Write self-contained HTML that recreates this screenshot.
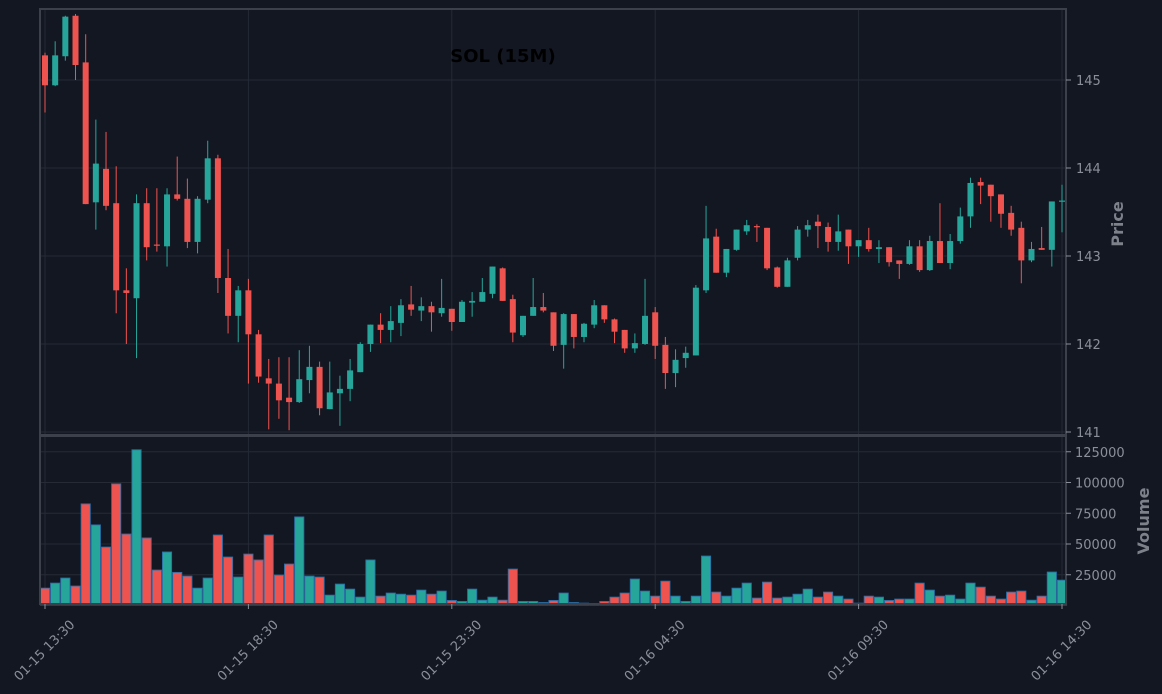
<!DOCTYPE html>
<html><head><meta charset="utf-8"><style>
html,body{margin:0;padding:0;background:#131722;}
svg{display:block;font-family:"DejaVu Sans","Liberation Sans",sans-serif;}
</style></head><body>
<svg id="chart" width="1162" height="694" viewBox="0 0 1162 694" xmlns="http://www.w3.org/2000/svg">
<rect x="0" y="0" width="1162" height="694" fill="#131722"/>
<g id="grid"></g>
<g id="vol"></g>
<g id="candles"></g>
<rect x="40" y="9" width="1026" height="426" fill="none" stroke="#3b404b" stroke-width="2"/>
<rect x="40" y="436" width="1026" height="168" fill="none" stroke="#3b404b" stroke-width="2"/>
<g id="axes"></g>
<text x="503" y="62" text-anchor="middle" font-size="18" font-weight="bold" fill="#000">SOL (15M)</text>
<text transform="translate(1123,224) rotate(-90)" text-anchor="middle" font-size="16" font-weight="bold" fill="#7d818a">Price</text>
<text transform="translate(1149,521) rotate(-90)" text-anchor="middle" font-size="16" font-weight="bold" fill="#7d818a">Volume</text>
</svg>
<script>
const opens=[145.28,144.94,145.27,145.73,145.2,143.61,143.99,143.6,142.61,142.52,143.6,143.13,143.11,143.7,143.65,143.16,143.64,144.11,142.75,142.32,142.61,142.11,141.61,141.55,141.39,141.34,141.59,141.74,141.26,141.44,141.49,141.68,142.0,142.22,142.16,142.24,142.45,142.38,142.43,142.35,142.4,142.25,142.47,142.48,142.57,142.86,142.51,142.1,142.32,142.42,142.36,141.99,142.34,142.08,142.22,142.44,142.28,142.16,141.95,142.0,142.36,141.99,141.67,141.84,141.87,142.61,143.22,142.81,143.07,143.28,143.34,143.32,142.87,142.65,142.98,143.3,143.39,143.33,143.16,143.3,143.11,143.18,143.08,143.1,142.95,142.91,143.11,142.84,143.17,142.92,143.17,143.45,143.84,143.81,143.7,143.49,143.32,142.95,143.09,143.07,143.62];
const closes=[144.94,145.28,145.72,145.17,143.59,144.05,143.57,142.61,142.58,143.6,143.1,143.12,143.7,143.65,143.16,143.65,144.11,142.75,142.32,142.61,142.11,141.63,141.55,141.36,141.34,141.6,141.74,141.27,141.45,141.49,141.7,142.0,142.22,142.16,142.26,142.44,142.39,142.43,142.36,142.41,142.25,142.48,142.49,142.59,142.88,142.49,142.13,142.32,142.42,142.38,141.98,142.34,142.08,142.23,142.44,142.28,142.14,141.95,142.01,142.32,141.98,141.67,141.82,141.9,142.64,143.2,142.81,143.08,143.3,143.35,143.33,142.86,142.65,142.95,143.3,143.35,143.34,143.16,143.28,143.11,143.18,143.08,143.1,142.93,142.91,143.11,142.84,143.17,142.92,143.17,143.45,143.83,143.8,143.68,143.48,143.3,142.95,143.08,143.07,143.62,143.63];
const highs=[145.31,145.44,145.73,145.75,145.52,144.55,144.41,144.02,142.86,143.7,143.77,143.77,143.77,144.13,143.88,143.68,144.31,144.15,143.08,142.66,142.74,142.16,141.83,141.85,141.85,141.93,141.98,141.8,141.8,141.64,141.83,142.02,142.22,142.35,142.43,142.51,142.66,142.53,142.48,142.74,142.4,142.5,142.59,142.75,142.88,142.87,142.56,142.32,142.75,142.58,142.36,142.35,142.34,142.24,142.5,142.44,142.29,142.16,142.12,142.74,142.42,142.08,141.94,141.97,142.67,143.57,143.31,143.08,143.3,143.41,143.36,143.32,142.88,142.98,143.34,143.41,143.47,143.38,143.47,143.3,143.18,143.32,143.18,143.1,142.95,143.18,143.18,143.23,143.6,143.25,143.55,143.89,143.89,143.81,143.7,143.57,143.39,143.16,143.33,143.62,143.81];
const lows=[144.63,144.93,145.22,145.0,143.59,143.3,143.52,142.35,142.0,141.84,142.95,143.05,142.88,143.63,143.09,143.03,143.6,142.58,142.12,142.02,141.55,141.56,141.03,141.15,141.02,141.33,141.44,141.19,141.26,141.07,141.35,141.68,141.91,142.01,142.02,142.09,142.32,142.26,142.14,142.31,142.15,142.25,142.31,142.48,142.52,142.49,142.02,142.08,142.32,142.36,141.92,141.72,141.95,142.02,142.18,142.24,142.01,141.9,141.9,141.99,141.83,141.49,141.51,141.73,141.87,142.58,142.81,142.76,143.06,143.24,143.16,142.84,142.64,142.65,142.95,143.22,143.09,143.05,143.06,142.91,142.99,143.05,142.92,142.88,142.74,142.9,142.82,142.83,142.92,142.85,143.14,143.32,143.59,143.39,143.32,143.23,142.69,142.93,143.07,142.88,143.27];
const volumes=[14100,18200,22300,15800,82600,65500,47500,98900,58100,126600,54900,28800,43500,26900,23900,14100,22300,57300,39400,23100,41800,37000,57300,24700,33700,72000,23900,23100,8400,17400,13300,6800,37000,7600,10100,9200,8400,12500,9200,11700,4100,3300,13300,4300,6800,4300,29600,3300,3300,2400,4100,10100,2400,1900,500,3300,6800,10100,21500,11700,7600,19800,7600,3300,7600,40200,10900,7600,14100,18200,6000,19000,6000,6800,9200,13300,6800,10900,7600,5200,1900,7600,6800,4100,5200,5200,18200,12500,7600,8400,5200,18200,14900,7600,5200,10900,11700,4300,7600,27200,20600];
const priceTicks=[141,142,143,144,145];
const volTicks=[25000,50000,75000,100000,125000];
const timeLabels=["01-15 13:30","01-15 18:30","01-15 23:30","01-16 04:30","01-16 09:30","01-16 14:30"];
const timeLabelIdx=[0,20,40,60,80,100];

const NS="http://www.w3.org/2000/svg";
const X0=45, DX=10.17;
const xs=i=>X0+DX*i;
const yp=p=>80+(145-p)*88;
const yv=v=>605.5-v*123/100000;
function mk(tag,attrs,parent){const e=document.createElementNS(NS,tag);for(const k in attrs)e.setAttribute(k,attrs[k]);parent.appendChild(e);return e;}
const grid=document.getElementById('grid'),axes=document.getElementById('axes'),vol=document.getElementById('vol'),cg=document.getElementById('candles');
priceTicks.forEach(p=>{
  const l=mk('line',{x1:40,x2:1066,y1:yp(p),y2:yp(p),stroke:'#252a35','stroke-width':1},grid);
  
  
  const t=mk('line',{x1:1066,x2:1071,y1:yp(p),y2:yp(p),stroke:'#8b8f99'},axes);
  
  
  const tx=mk('text',{x:1076,y:yp(p)+5,'font-size':13,fill:'#8b8f99'},axes);
  tx.textContent=p;
  
  
});
volTicks.forEach(v=>{
  const l=mk('line',{x1:40,x2:1066,y1:yv(v),y2:yv(v),stroke:'#252a35','stroke-width':1},grid);
  
  
  const t=mk('line',{x1:1066,x2:1071,y1:yv(v),y2:yv(v),stroke:'#8b8f99'},axes);
  
  
  const tx=mk('text',{x:1075,y:yv(v)+5,'font-size':13,fill:'#8b8f99'},axes);
  tx.textContent=v;
  
  
});
timeLabelIdx.forEach((idx,k)=>{
  const x=xs(idx);
  const l=mk('line',{x1:x,x2:x,y1:9,y2:604,stroke:'#252a35','stroke-width':1},grid);
  
  
  const t=mk('line',{x1:x,x2:x,y1:604,y2:609,stroke:'#8b8f99'},axes);
  
  
  const tx=mk('text',{transform:`translate(${x},${651}) rotate(-45)`,'text-anchor':'middle','dominant-baseline':'central','font-size':13,fill:'#8b8f99'},axes);
  tx.textContent=timeLabels[k];
  
  
});
const UP='#26a69a',DN='#ef5350';
opens.forEach((o,i)=>{
  const c=closes[i],x=xs(i),col=c>=o?UP:DN;
  const w=mk('line',{x1:x,x2:x,y1:yp(highs[i]),y2:yp(lows[i]),stroke:col,'stroke-width':1},cg);
  
  
  const top=yp(Math.max(o,c)),bot=yp(Math.min(o,c));
  const b=mk('rect',{x:x-3,y:top,width:6,height:Math.max(1.2,bot-top),fill:col},cg);
  
  
  const v=volumes[i];
  const vb=mk('rect',{x:x-4.6,y:yv(v),width:9.2,height:605-yv(v),fill:col,stroke:'#2b6fa8','stroke-width':0.9},vol);
  
  
});
</script>
</body></html>
